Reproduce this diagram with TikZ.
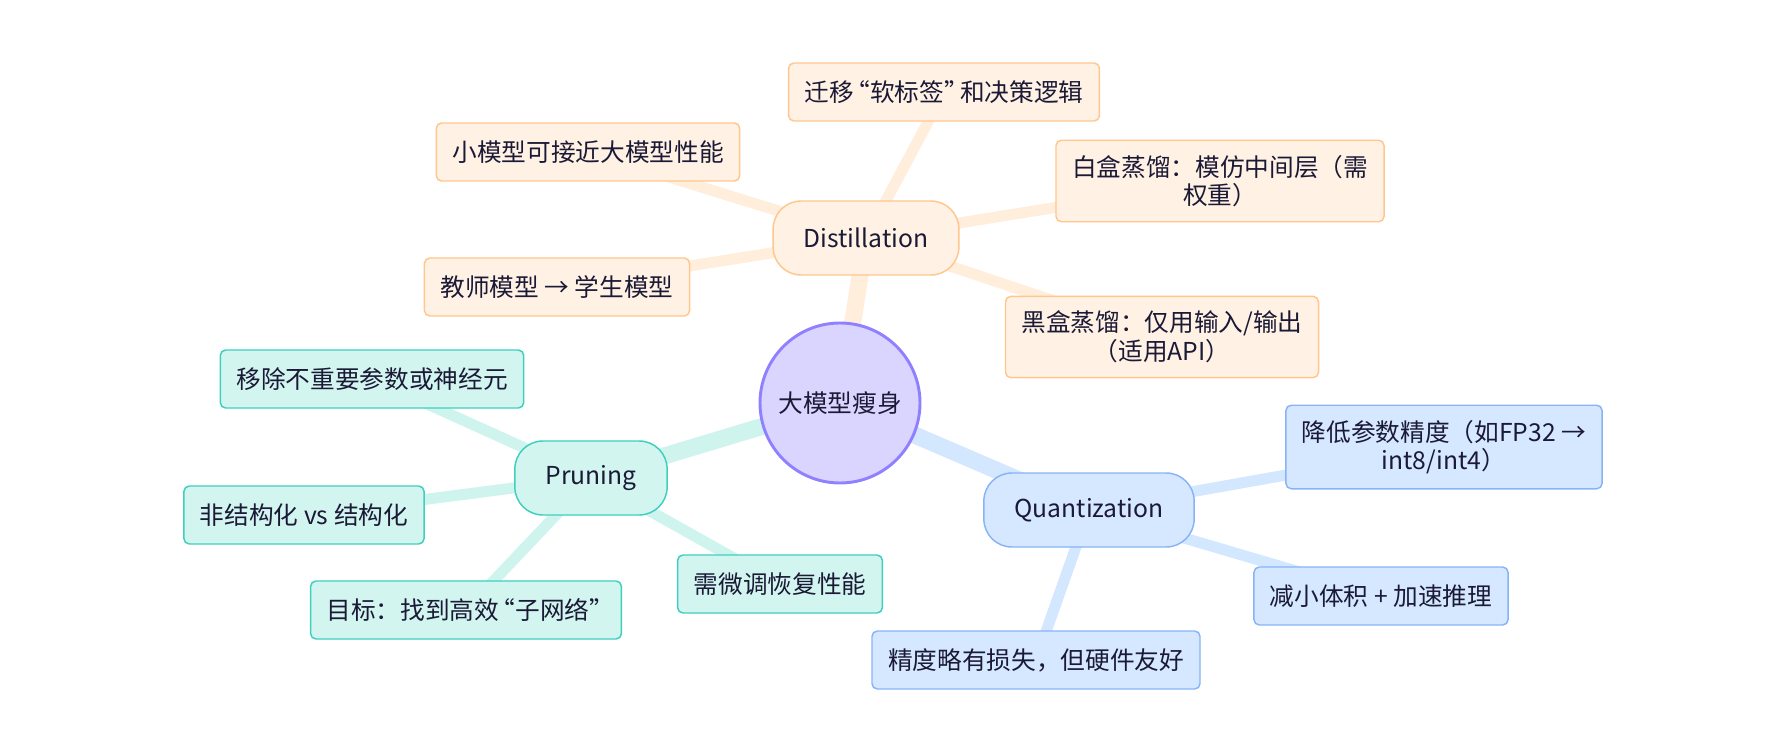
\documentclass[tikz,border=0pt]{standalone}
\usepackage{fontspec}
\setmainfont{Noto Sans CJK SC}
\usetikzlibrary{positioning, backgrounds}

\definecolor{inkdark}{HTML}{1B1A36}
\definecolor{rootfill}{HTML}{DAD5FF}
\definecolor{rootline}{HTML}{8F80FF}
\definecolor{distfill}{HTML}{FFF2E4}
\definecolor{distline}{HTML}{FFC68E}
\definecolor{distedge}{HTML}{FFEEDC}
\definecolor{prunfill}{HTML}{D3F5F0}
\definecolor{prunline}{HTML}{3ECFBF}
\definecolor{prunedge}{HTML}{CFF4EE}
\definecolor{quanfill}{HTML}{D5E8FF}
\definecolor{quanline}{HTML}{88B4F7}
\definecolor{quanedge}{HTML}{D3E7FF}

% tighter CJK quotes
\newcommand{\qtight}{\kern-.35em}

\begin{document}
\begin{tikzpicture}[
    x=0.75pt, y=-0.75pt,
    font=\fontsize{18.5}{21.5}\selectfont,
    text=inkdark,
    rootnode/.style={
        circle,
        draw=rootline,
        line width=2.2pt,
        fill=rootfill,
        minimum size=120pt,
        inner sep=0pt
    },
    branch/.style={
        rounded corners=21pt,
        draw=#1line,
        fill=#1fill,
        line width=1.1pt,
        minimum height=55.5pt,
        inner xsep=23pt
    },
    leaf/.style={
        rounded corners=4pt,
        draw=#1line,
        fill=#1fill,
        line width=1.1pt,
        minimum height=43.5pt,
        inner xsep=12pt,
        inner ysep=11pt,
        align=center
    },
    trunk/.style={
        line width=12.75pt,
        draw=#1edge
    },
    twig/.style={
        line width=8.25pt,
        draw=#1edge
    }
]
\useasboundingbox (0,0) rectangle (1784,752);

% centre
\node[rootnode] (slim) at (840,403) {大模型瘦身};

% three main branches
\node[branch=dist] (distill) at (866,238) {Distillation};
\node[branch=prun] (prune)   at (591,478) {Pruning};
\node[branch=quan] (quant)   at (1089,510) {Quantization};

% distillation leaves
\node[leaf=dist] (dsoft)  at (944,92)   {迁移\qtight{}“软标签”\qtight{}和决策逻辑};
\node[leaf=dist] (dsmall) at (588,152)  {小模型可接近大模型性能};
\node[leaf=dist] (dwhite) at (1220,181) {白盒蒸馏：模仿中间层（需\\权重）};
\node[leaf=dist] (dteach) at (557,287)  {教师模型 → 学生模型};
\node[leaf=dist] (dblack) at (1162,337) {黑盒蒸馏：仅用输入/输出\\（适用API）};

% pruning leaves
\node[leaf=prun] (premove) at (372,379) {移除不重要参数或神经元};
\node[leaf=prun] (pstruct) at (304,515) {非结构化 vs 结构化};
\node[leaf=prun] (pgoal)   at (466,610) {目标：找到高效\qtight{}“子网络”\qtight{}};
\node[leaf=prun] (ptune)   at (780,584) {需微调恢复性能};

% quantization leaves
\node[leaf=quan] (qprec) at (1444,447) {降低参数精度（如FP32 →\\int8/int4）};
\node[leaf=quan] (qsize) at (1381,596) {减小体积 + 加速推理};
\node[leaf=quan] (qloss) at (1036,660) {精度略有损失，但硬件友好};

\begin{scope}[on background layer]
\draw[trunk=dist] (slim.center) -- (distill.center);
\draw[trunk=prun] (slim.center) -- (prune.center);
\draw[trunk=quan] (slim.center) -- (quant.center);

\draw[twig=dist] (distill.center) -- (dsoft.center);
\draw[twig=dist] (distill.center) -- (dsmall.center);
\draw[twig=dist] (distill.center) -- (dwhite.center);
\draw[twig=dist] (distill.center) -- (dteach.center);
\draw[twig=dist] (distill.center) -- (dblack.center);

\draw[twig=prun] (prune.center) -- (premove.center);
\draw[twig=prun] (prune.center) -- (pstruct.center);
\draw[twig=prun] (prune.center) -- (pgoal.center);
\draw[twig=prun] (prune.center) -- (ptune.center);

\draw[twig=quan] (quant.center) -- (qprec.center);
\draw[twig=quan] (quant.center) -- (qsize.center);
\draw[twig=quan] (quant.center) -- (qloss.center);
\end{scope}

\end{tikzpicture}
\end{document}
